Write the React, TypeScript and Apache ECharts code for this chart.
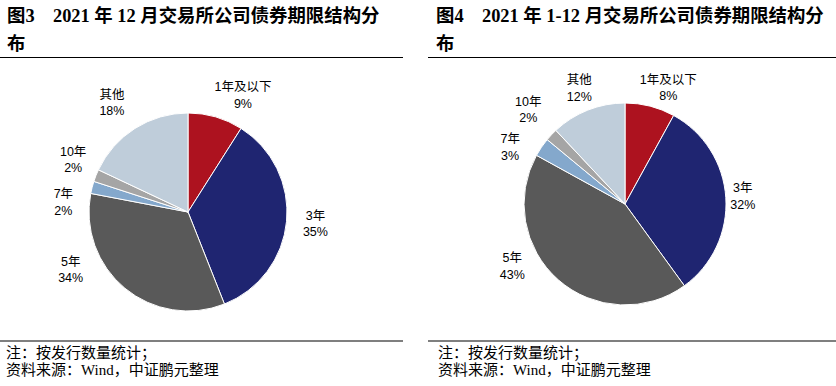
import React, { useEffect, useRef } from "react";
import * as echarts from "echarts";

const categories = ["1年及以下", "3年", "5年", "7年", "10年", "其他"];
const decValues = [9, 35, 34, 2, 2, 18];
const yearValues = [8, 32, 43, 3, 2, 12];
const colors = ["#AD121F", "#1F2571", "#595959", "#84A8CC", "#A5A5A5", "#BFCDDA"];

const title1 = ["图3\u30002021 年 12 月交易所公司债券期限结构分", "布"];
const title2 = ["图4\u30002021 年 1-12 月交易所公司债券期限结构分", "布"];
const note1 = "注：按发行数量统计；";
const note2 = "资料来源：Wind，中证鹏元整理";

// label placement tweaks (degrees shift from slice mid-angle, distance from centre)
const leftLabelShift = [9, 0, 24, -10, 2.7, -2.5];
const leftLabelDist = [129, 128, 131, 125, 126, 133];
const rightLabelShift = [6, 0, 19.5, -8, 1, 0];
const rightLabelDist = [124, 118, 129, 128, 135, 124];

const TITLE_FONT = "'Liberation Serif', 'Noto Sans CJK SC', serif";
const NOTE_FONT = "'Liberation Serif', 'Noto Sans CJK SC', serif";
const LABEL_FONT = "'Liberation Sans', 'Noto Sans CJK SC', sans-serif";

function makeSeries(values: number[], center: [number, number], radius: number, shift: number[], dist: number[]) {
  const total = values.reduce((a, b) => a + b, 0);
  const mids: number[] = [];
  let acc = 0;
  values.forEach((v) => {
    mids.push(((acc + v / 2) / total) * 360);
    acc += v;
  });
  return {
    type: "pie",
    center,
    radius,
    startAngle: 90,
    clockwise: true,
    avoidLabelOverlap: false,
    data: values.map((v, i) => ({ name: categories[i], value: v, itemStyle: { color: colors[i] } })),
    itemStyle: { borderColor: "#ffffff", borderWidth: 1 },
    label: {
      show: true,
      position: "outside",
      formatter: "{b}\n{c}%",
      fontSize: 12.5,
      lineHeight: 16.5,
      color: "#000000",
      fontFamily: LABEL_FONT,
      align: "center",
    },
    labelLine: { show: false },
    emphasis: { disabled: true },
    labelLayout: (p: any) => {
      const i = p.dataIndex;
      const a = ((mids[i] + shift[i]) * Math.PI) / 180;
      return {
        x: center[0] + dist[i] * Math.sin(a),
        y: center[1] - dist[i] * Math.cos(a),
        align: "center",
        verticalAlign: "middle",
      };
    },
  };
}

function text(t: string, x: number, y: number, font: string) {
  return {
    type: "text",
    x,
    y,
    silent: true,
    style: { text: t, font, fill: "#000000", verticalAlign: "middle", align: "left" },
  };
}

function hline(x1: number, x2: number, y: number) {
  return {
    type: "line",
    silent: true,
    shape: { x1, y1: y, x2, y2: y },
    style: { stroke: "#000000", lineWidth: 1.2 },
  };
}

export default function App() {
  const ref = useRef<HTMLDivElement>(null);
  useEffect(() => {
    if (!ref.current) return;
    const chart = echarts.init(ref.current, undefined, { renderer: "svg" });
    const tf = `bold 18.4px ${TITLE_FONT}`;
    const nf = `15px ${NOTE_FONT}`;
    chart.setOption({
      animation: false,
      backgroundColor: "#ffffff",
      series: [
        makeSeries(decValues, [188, 212], 99, leftLabelShift, leftLabelDist),
        makeSeries(yearValues, [625, 204], 101, rightLabelShift, rightLabelDist),
      ],
      graphic: [
        text(title1[0], 7, 16, tf),
        text(title1[1], 7, 44, tf),
        text(title2[0], 436, 16, tf),
        text(title2[1], 436, 44, tf),
        hline(0, 403, 57.5),
        hline(428, 836, 57.5),
        hline(0, 403, 341),
        hline(428, 836, 341),
        text(note1, 6, 353, nf),
        text(note2, 6, 370, nf),
        text(note1, 438, 353, nf),
        text(note2, 438, 370, nf),
      ],
    });
    return () => chart.dispose();
  }, []);
  return (
    <div
      ref={ref}
      style={{ position: "absolute", left: 0, top: 0, width: 836, height: 386, background: "#fff" }}
    />
  );
}
